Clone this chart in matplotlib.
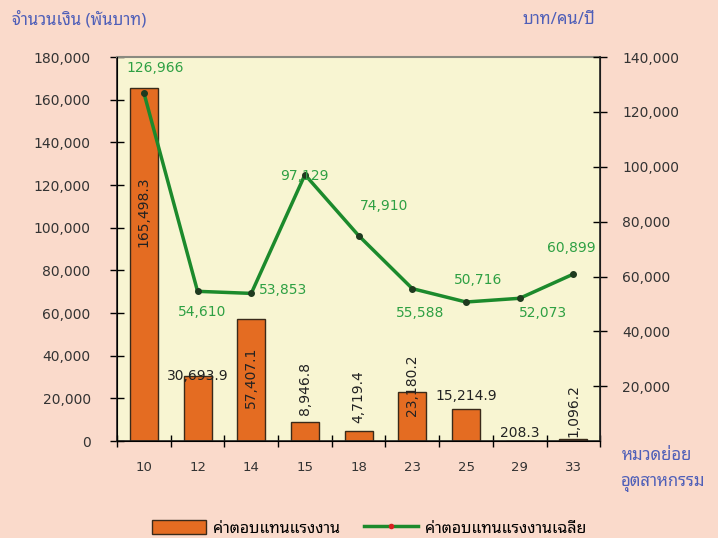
import matplotlib
matplotlib.use("Agg")
import matplotlib.pyplot as plt
from matplotlib.lines import Line2D
from matplotlib.patches import Patch
import numpy as np

thai = ['Noto Sans Thai Looped', 'DejaVu Sans']

categories = ["10", "12", "14", "15", "18", "23", "25", "29", "33"]
wages = [165498.3, 30693.9, 57407.1, 8946.8, 4719.4, 23180.2, 15214.9, 208.3, 1096.2]
wage_labels = ["165,498.3", "30,693.9", "57,407.1", "8,946.8", "4,719.4",
               "23,180.2", "15,214.9", "208.3", "1,096.2"]
avg_wage = [126966, 54610, 53853, 97129, 74910, 55588, 50716, 52073, 60899]
avg_labels = ["126,966", "54,610", "53,853", "97,129", "74,910",
              "55,588", "50,716", "52,073", "60,899"]

# label placement for the bars: rotation, offset in px, vertical align
bar_lab_style = [(90, -89, "top"), (0, 0, "center"), (90, -28, "top"),
                 (90, 7, "bottom"), (90, 8, "bottom"), (90, 6, "center"),
                 (0, 13, "center"), (0, 8, "center"), (90, 2, "bottom")]
# offsets (px) for the line labels
line_lab_off = [(11, 25), (5, -21), (32, 3), (-1, -1), (25, 30),
                (8, -24), (12, 22), (23, -15), (-2, 26)]

orange = "#E46C22"
green = "#1C8A2C"
lab_green = "#2EA043"
blue = "#4F5FB8"

fig = plt.figure(figsize=(7.18, 5.38), dpi=100, facecolor="#FADACB")
ax = fig.add_axes([0.163, 0.180, 0.673, 0.714])
ax.set_facecolor("#F8F5D2")
x = np.arange(len(categories))

ax.bar(x, wages, width=0.52, color=orange, edgecolor="#3A2A1A", linewidth=1, zorder=2)
ax.set_xlim(-0.5, len(categories) - 0.5)
ax.set_ylim(0, 180000)
ax.set_yticks(np.arange(0, 180001, 20000))
ax.set_yticklabels([f"{v:,}" for v in range(0, 180001, 20000)])
ax.set_xticks(x)
ax.set_xticklabels(categories)
ax.set_xticks(np.arange(-0.5, len(categories)), minor=True)
ax.tick_params(axis="x", which="major", length=0, pad=14, labelsize=9.5, labelcolor="#333333")
ax.tick_params(axis="x", which="minor", direction="inout", length=8, width=1)
ax.tick_params(axis="y", direction="inout", length=10, width=1, labelsize=10,
               labelcolor="#333333", pad=14)
for s in ["left", "bottom"]:
    ax.spines[s].set_color("#222222")
    ax.spines[s].set_linewidth(1.2)
ax.spines["top"].set_color("#8A8A80")
ax.spines["top"].set_linewidth(1.5)

for i, v in enumerate(wages):
    rot, dy, va = bar_lab_style[i]
    ax.annotate(wage_labels[i], (x[i], v), xytext=(0, dy), textcoords="offset pixels",
                rotation=rot, ha="center", va=va, fontsize=10, color="#222222", zorder=4)

ax2 = ax.twinx()
ax2.plot(x, avg_wage, color=green, linewidth=2.5, marker="o", markersize=4,
         markerfacecolor="#1F3A1F", markeredgecolor="#1F3A1F", zorder=3)
ax2.set_ylim(0, 140000)
ax2.set_yticks(np.arange(20000, 140001, 20000))
ax2.set_yticklabels([f"{v:,}" for v in range(20000, 140001, 20000)])
ax2.tick_params(axis="y", direction="inout", length=10, width=1, labelsize=10,
                labelcolor="#333333", pad=11)
ax2.spines["right"].set_color("#222222")
ax2.spines["right"].set_linewidth(1.2)
ax2.spines["top"].set_visible(False)

for i, v in enumerate(avg_wage):
    dx, dy = line_lab_off[i]
    ax2.annotate(avg_labels[i], (x[i], v), xytext=(dx, dy), textcoords="offset pixels",
                 ha="center", va="center", fontsize=10, color=lab_green, zorder=5)

fig.text(0.017, 0.963, "จำนวนเงิน (พันบาท)", family=thai, fontsize=12, weight="semibold",
         color=blue, ha="left", va="center")
fig.text(0.728, 0.963, "บาท/คน/ปี", family=thai, fontsize=12, weight="semibold",
         color=blue, ha="left", va="center")
fig.text(0.866, 0.152, "หมวดย่อย", family=thai, fontsize=12, weight="semibold",
         color=blue, ha="left", va="center")
fig.text(0.864, 0.100, "อุตสาหกรรม", family=thai, fontsize=12, weight="semibold",
         color=blue, ha="left", va="center")

handles = [Patch(facecolor=orange, edgecolor="#3A2A1A"),
           Line2D([], [], color=green, linewidth=2.5, marker="o", markersize=3,
                  markerfacecolor="#D62020", markeredgecolor="#D62020")]
fig.legend(handles, ["ค่าตอบแทนแรงงาน", "ค่าตอบแทนแรงงานเฉลี่ย"], loc="center",
           bbox_to_anchor=(0.514, 0.018), ncol=2, frameon=False,
           prop={"family": thai, "size": 11.5}, handlelength=3.4, handleheight=1.0,
           columnspacing=1.5, handletextpad=0.4)

fig.savefig("out.png", dpi=100, facecolor=fig.get_facecolor())
